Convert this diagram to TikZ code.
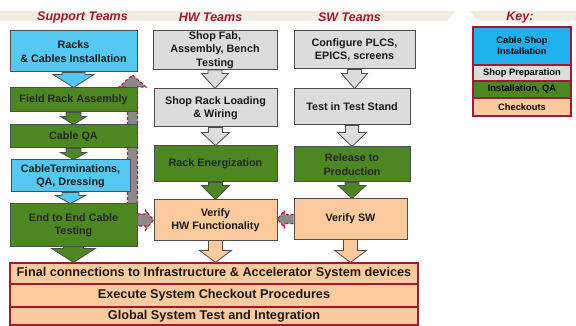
\documentclass[tikz,border=0pt]{standalone}
\usepackage{fontspec}
\setmainfont{Liberation Sans}
\usetikzlibrary{calc}
\definecolor{cblue}{HTML}{55C8F2}
\definecolor{kblue}{HTML}{1FB1EC}
\definecolor{cgray}{HTML}{DCDCDC}
\definecolor{cgreen}{HTML}{4D8722}
\definecolor{corange}{HTML}{FCCA9C}
\definecolor{boxline}{HTML}{4D4D4D}
\definecolor{darkred}{HTML}{9E1B32}
\definecolor{dashred}{HTML}{B51F2E}
\definecolor{fbgray}{HTML}{8A8A8A}
\definecolor{band}{HTML}{F3ECE2}
\newcommand\arrdown[6]{%
 \draw[blockarrow,fill=#3] ($(#1.south)+(-#4,0)$) -- ($(#1.south |- #2.north)+(-#4,-#6)$) -- ($(#1.south |- #2.north)+(-#5,-#6)$) -- (#1.south |- #2.north) -- ($(#1.south |- #2.north)+(#5,-#6)$) -- ($(#1.south |- #2.north)+(#4,-#6)$) -- ($(#1.south)+(#4,0)$) -- cycle;}
\begin{document}
\begin{tikzpicture}[x=1pt,y=-1pt,
  box/.style={draw=boxline,line width=1pt,align=center,inner sep=1pt,
    font=\bfseries\fontsize{10.8}{13.5}\selectfont,text=black!90},
  bluebox/.style={box,fill=cblue},
  graybox/.style={box,fill=cgray},
  greenbox/.style={box,fill=cgreen,text=black!85},
  orangebox/.style={box,fill=corange},
  finalbox/.style={box,fill=corange,draw=darkred,line width=1.2pt,
    font=\bfseries\fontsize{12.7}{14}\selectfont},
  keybox/.style={draw=darkred,line width=1.2pt,align=center,inner sep=1pt,
    minimum width=98pt,font=\bfseries\fontsize{9.3}{11}\selectfont},
  title/.style={font=\bfseries\itshape\fontsize{12.5}{14}\selectfont,text=darkred},
  blockarrow/.style={draw=boxline,line width=0.8pt,line join=miter},
  feedback/.style={draw=dashred,fill=fbgray,line width=1.1pt,dash pattern=on 3pt off 2pt,line join=miter}]
\useasboundingbox (0,0) rectangle (576,326);
\fill[white] (0,0) rectangle (576,326);
% header bands
\fill[band] (0,11) -- (455,11) -- (447,21) -- (0,21) -- cycle;
\fill[band] (470,11) -- (576,11) -- (576,21) -- (478,21) -- cycle;
\node[title] (tsup) at (82.5,17.5) {Support Teams};
\node[title] (thw) at (210.5,17.5) {HW Teams};
\node[title] (tsw) at (349.5,17.5) {SW Teams};
\node[title] (tkey) at (520,17.5) {Key:};
% feedback up arrow (behind boxes)
\coordinate (ub) at (132.5,205);
\coordinate (ut) at (132.5,75);
\draw[feedback] ($(ub)+(-5,0)$) -- ($(ub |- ut)+(-5,12)$) -- ($(ub |- ut)+(-13.5,12)$) -- (ut) -- ($(ub |- ut)+(13.5,12)$) -- ($(ub |- ut)+(5,12)$) -- ($(ub)+(5,0)$);
% column 1
\node[bluebox,minimum width=127pt,minimum height=41pt] (r1) at (73.5,51.5) {Racks\\\& Cables Installation};
\node[greenbox,minimum width=127pt,minimum height=24pt] (r2) at (73.5,100) {Field Rack Assembly};
\node[greenbox,minimum width=127pt,minimum height=23pt] (r3) at (73.5,136.5) {Cable QA};
\node[bluebox,minimum width=119pt,minimum height=32pt] (r4) at (70.5,176) {CableTerminations,\\QA, Dressing};
\node[greenbox,minimum width=127pt,minimum height=42pt] (r5) at (73.5,225) {End to End Cable\\Testing};
% column 2
\node[graybox,minimum width=124pt,minimum height=38pt] (h1) at (215,50) {Shop Fab,\\Assembly, Bench\\Testing};
\node[graybox,minimum width=123pt,minimum height=38pt] (h2) at (215.5,108) {Shop Rack Loading\\\& Wiring};
\node[greenbox,minimum width=123pt,minimum height=36pt] (h3) at (215.5,164) {Rack Energization};
\node[orangebox,minimum width=123pt,minimum height=40pt] (h4) at (215.5,220) {Verify\\HW Functionality};
% column 3
\node[graybox,minimum width=121pt,minimum height=38pt] (s1) at (354.5,50) {Configure PLCS,\\EPICS, screens};
\node[graybox,minimum width=116pt,minimum height=36pt] (s2) at (352,107) {Test in Test Stand};
\node[greenbox,minimum width=116pt,minimum height=35pt] (s3) at (352,164.5) {Release to\\Production};
\node[orangebox,minimum width=113pt,minimum height=40pt] (s4) at (350.5,219) {Verify SW};
% bottom rows
\node[finalbox,minimum width=408pt,minimum height=21pt] (b1) at (214,273.5) {Final connections to Infrastructure \& Accelerator System devices};
\node[finalbox,minimum width=408pt,minimum height=23pt] (b2) at (214,295.5) {Execute System Checkout Procedures};
\node[finalbox,minimum width=408pt,minimum height=18pt] (b3) at (214,316) {Global System Test and Integration};
% key
\node[keybox,fill=kblue,minimum height=38pt] (k1) at (522,46) {Cable Shop\\Installation};
\node[keybox,fill=cgray,minimum height=16pt] (k2) at (522,73) {Shop Preparation};
\node[keybox,fill=cgreen,minimum height=17pt] (k3) at (522,89.5) {Installation, QA};
\node[keybox,fill=corange,minimum height=18pt] (k4) at (522,107) {Checkouts};
% down block arrows
\arrdown{r1}{r2}{cblue}{11.5}{20.5}{13}
\arrdown{r2}{r3}{cgreen}{7.5}{13}{8}
\arrdown{r3}{r4}{cgreen}{7.5}{13}{7}
\arrdown{r4}{r5}{cblue}{8.5}{15}{8}
\arrdown{r5}{b1}{cgreen}{10}{22}{14}
\arrdown{h1}{h2}{cgray}{7}{13.5}{15}
\arrdown{h2}{h3}{cgray}{7}{14}{13}
\arrdown{h3}{h4}{cgreen}{7}{14}{14}
\arrdown{h4}{b1}{corange}{7}{16}{12}
\arrdown{s1}{s2}{cgray}{7}{13}{15}
\arrdown{s2}{s3}{cgray}{6.5}{14.5}{14}
\arrdown{s3}{s4}{cgreen}{7}{14}{13}
\arrdown{s4}{b1}{corange}{7}{16}{12}
% horizontal feedback arrows
\coordinate (ra) at (r5.east |- h4.west);
\draw[feedback] (ra) ++(0,-6) -- ($(h4.west)+(-8,-6)$) -- ($(h4.west)+(-8,-10)$) -- (h4.west) -- ($(h4.west)+(-8,10)$) -- ($(h4.west)+(-8,6)$) -- ($(ra)+(0,6)$);
\coordinate (la) at (h4.east |- s4.west);
\draw[feedback] ($(s4.west)+(0,-4.5)$) -- ($(la)+(7,-4.5)$) -- ($(la)+(7,-8.5)$) -- (la) -- ($(la)+(7,8.5)$) -- ($(la)+(7,4.5)$) -- ($(s4.west)+(0,4.5)$);
\end{tikzpicture}
\end{document}
